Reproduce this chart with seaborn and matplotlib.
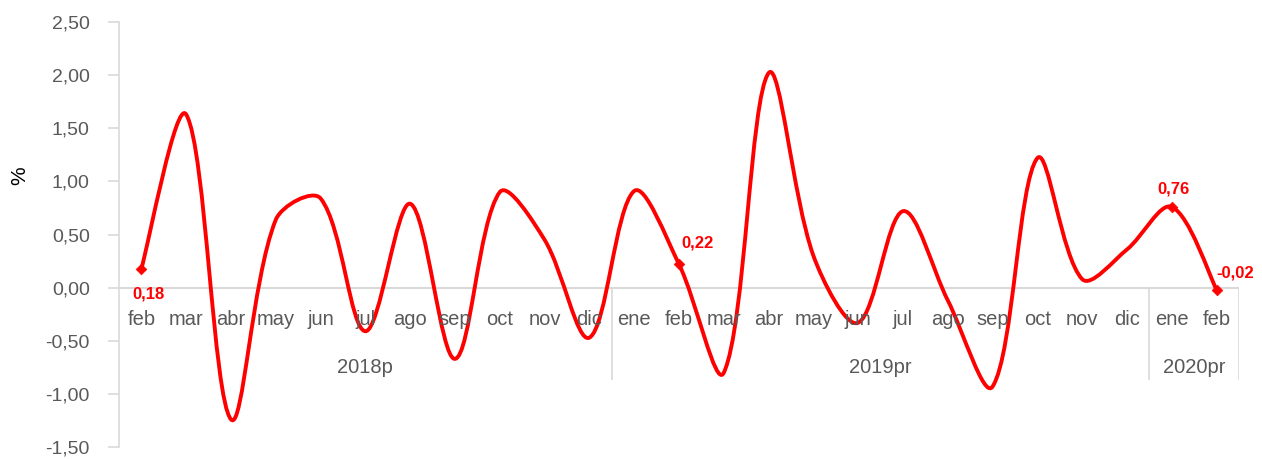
import numpy as np
import matplotlib
matplotlib.use("Agg")
import matplotlib.pyplot as plt
from matplotlib.path import Path
from matplotlib.patches import PathPatch
import seaborn as sns

months = ["feb", "mar", "abr", "may", "jun", "jul", "ago", "sep", "oct", "nov", "dic",
          "ene", "feb", "mar", "abr", "may", "jun", "jul", "ago", "sep", "oct", "nov", "dic",
          "ene", "feb"]
variation = [0.18, 1.63, -1.24, 0.64, 0.84, -0.41, 0.79, -0.67, 0.90, 0.45, -0.47,
             0.91, 0.22, -0.80, 2.02, 0.30, -0.33, 0.72, -0.12, -0.93, 1.22, 0.08, 0.36,
             0.76, -0.02]
years = ["2018p", "2019pr", "2020pr"]
year_spans = [(0, 10), (11, 22), (23, 24)]
labeled_idx = [0, 12, 23, 24]

RED = "#FF0000"
GRAY = "#595959"
LIGHT = "#D9D9D9"

sns.set_theme(style="white")
plt.rcParams["font.family"] = ["Liberation Sans", "DejaVu Sans"]

fig = plt.figure(figsize=(12.62, 4.59), dpi=100)
ax = fig.add_axes([0.0943, 0.026, 0.8875, 0.926])
ax.set_xlim(-0.5, 24.5)
ax.set_ylim(-1.5, 2.5)

x = np.arange(len(variation), dtype=float)
y = np.array(variation)

# Excel-like smoothing: Bezier handles computed in screen space,
# sized by the neighbouring segment lengths
pts = ax.transData.transform(np.column_stack([x, y]))
n = len(pts)
seg = np.linalg.norm(np.diff(pts, axis=0), axis=1)
tang = np.zeros_like(pts)
for i in range(n):
    tang[i] = pts[min(i + 1, n - 1)] - pts[max(i - 1, 0)]
verts = [pts[0]]
codes = [Path.MOVETO]
for i in range(n - 1):
    d_prev = seg[i - 1] if i > 0 else seg[i]
    d_next = seg[i + 1] if i + 1 < n - 1 else seg[i]
    c1 = pts[i] + tang[i] * seg[i] / (d_prev + seg[i]) / 3
    c2 = pts[i + 1] - tang[i + 1] * seg[i] / (seg[i] + d_next) / 3
    verts += [c1, c2, pts[i + 1]]
    codes += [Path.CURVE4] * 3
verts = ax.transData.inverted().transform(np.array(verts))
ax.add_patch(PathPatch(Path(verts, codes), facecolor="none", edgecolor=RED,
                       lw=2.8, capstyle="round", joinstyle="round", zorder=3))

sns.scatterplot(x=x[labeled_idx], y=y[labeled_idx], marker="D", s=30,
                color=RED, edgecolor=RED, ax=ax, zorder=4)

# data label placement: (x shift, label y, ha, va)
offsets = {0: (0.15, 0.01, "center", "top"),
           12: (0.05, 0.42, "left", "center"),
           23: (0.03, 0.93, "center", "center"),
           24: (0.0, 0.14, "left", "center")}
for i in labeled_idx:
    dx, yy, ha, va = offsets[i]
    txt = f"{variation[i]:.2f}".replace(".", ",")
    ax.text(x[i] + dx, yy, txt, color=RED, fontsize=12,
            fontweight="bold", ha=ha, va=va, zorder=5)

yt = np.arange(-1.5, 2.51, 0.5)
ax.set_yticks(yt)
ax.set_yticklabels([f"{v:.2f}".replace(".", ",") for v in yt], color=GRAY, fontsize=14)
ax.tick_params(axis="y", left=True, length=8, width=1.2, color=LIGHT, pad=13)
ax.set_xticks([])
ax.set_ylabel("%", fontsize=15, color="black")
ax.yaxis.set_label_coords(-0.08, 0.638)

for s in ["top", "right", "bottom"]:
    ax.spines[s].set_visible(False)
ax.spines["left"].set_color(LIGHT)
ax.spines["left"].set_linewidth(1.2)
ax.axhline(0, color=LIGHT, lw=1.5, zorder=1)

for i, m in enumerate(months):
    ax.text(i, -0.30, m, ha="center", va="center", color=GRAY, fontsize=14.5)
for yr, (a, b) in zip(years, year_spans):
    ax.text((a + b) / 2, -0.75, yr, ha="center", va="center", color=GRAY, fontsize=14.5)
ax.vlines([10.5, 22.5, 24.5], -0.87, 0, color=LIGHT, lw=1.2, zorder=1)

fig.savefig("out.png", dpi=100)
